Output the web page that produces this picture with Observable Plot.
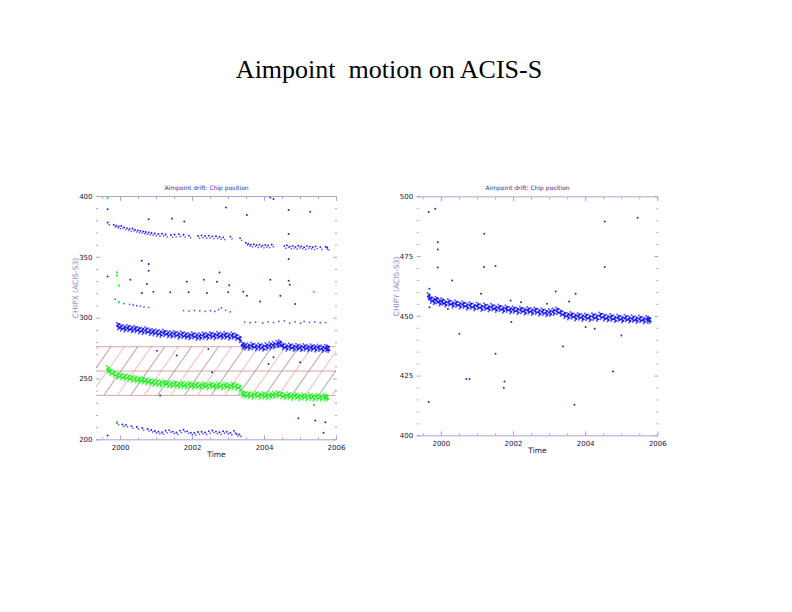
<!DOCTYPE html>
<html><head><meta charset="utf-8">
<script src="https://cdn.jsdelivr.net/npm/d3@7"></script>
<script src="https://cdn.jsdelivr.net/npm/@observablehq/plot@0.6"></script>
<style>
html,body{margin:0;padding:0;background:#fff;}
#page{position:relative;width:792px;height:612px;overflow:hidden;background:#fff;}
#title{position:absolute;left:0;width:778px;top:57px;text-align:center;font-family:"Liberation Serif","Times New Roman",serif;font-size:26px;line-height:26px;color:#000;white-space:pre;}
.panel{position:absolute;top:170px;}
</style></head><body>
<div id="page">
  <div id="title">Aimpoint  motion on ACIS-S</div>
  <div id="left" class="panel" style="left:40px"></div>
  <div id="right" class="panel" style="left:360px"></div>
</div>
<script>
// ---------- shared axis data ----------
const timeDomain = [1999.33, 2006];
const yearLabels = [2000, 2002, 2004, 2006];
const halfYearTicks = [1999.5, 2000, 2000.5, 2001, 2001.5, 2002, 2002.5, 2003, 2003.5, 2004, 2004.5, 2005, 2005.5, 2006];

// ---------- left panel: CHIPX ----------
const chipxDomain = [200, 400];
const chipxLabels = [200, 250, 300, 350, 400];
const chipxMinor = [210, 220, 230, 240, 260, 270, 280, 290, 310, 320, 330, 340, 360, 370, 380, 390];
const hatchBand = [236.5, 276.5];
const hatchLines = [236.5, 256.5, 276.5];

const chipxUpperBlue = [[1999.64,377.8],[1999.81,376.0],[1999.88,375.2],[1999.95,374.6],[2000.02,374.9],[2000.10,373.8],[2000.18,373.2],[2000.25,372.6],[2000.33,372.9],[2000.40,371.8],[2000.48,371.2],[2000.55,370.9],[2000.63,370.4],[2000.70,370.0],[2000.78,369.6],[2000.86,369.2],[2000.95,368.8],[2001.05,368.4],[2001.15,368.6],[2001.25,367.9],[2001.40,367.5],[2001.50,367.9],[2001.62,368.2],[2001.75,367.7],[2001.90,367.0],[2002.15,366.8],[2002.25,367.2],[2002.35,366.7],[2002.45,367.0],[2002.55,366.4],[2002.65,366.6],[2002.75,366.0],[2002.85,365.6],[2003.05,366.2],[2003.32,365.0],[2003.48,361.2],[2003.55,360.3],[2003.62,359.6],[2003.70,360.0],[2003.78,359.2],[2003.86,359.6],[2003.94,358.8],[2004.02,359.4],[2004.10,359.0],[2004.20,359.7],[2004.55,358.4],[2004.62,359.2],[2004.70,358.0],[2004.78,358.6],[2004.86,357.8],[2004.94,358.7],[2005.02,358.2],[2005.10,357.5],[2005.18,358.4],[2005.26,358.0],[2005.34,357.4],[2005.42,358.2],[2005.55,357.6],[2005.70,357.9],[2005.74,357.2]];

const chipxMainBlue = [[1999.92,293.5],[2000.00,292.4],[2000.10,291.6],[2000.20,291.8],[2000.30,290.9],[2000.40,291.0],[2000.50,290.2],[2000.60,289.6],[2000.70,289.9],[2000.80,288.8],[2000.90,288.5],[2001.00,288.0],[2001.10,287.4],[2001.20,287.9],[2001.30,286.9],[2001.40,286.6],[2001.50,286.9],[2001.60,285.9],[2001.70,286.4],[2001.80,285.6],[2001.90,285.2],[2002.00,285.8],[2002.10,284.9],[2002.20,285.0],[2002.30,285.7],[2002.40,285.2],[2002.50,285.9],[2002.60,285.3],[2002.70,286.0],[2002.80,285.4],[2002.90,285.8],[2003.00,285.1],[2003.10,285.6],[2003.20,284.8],[2003.30,283.0],[2003.38,277.6],[2003.45,277.0],[2003.55,276.6],[2003.65,277.2],[2003.75,276.2],[2003.85,276.5],[2003.95,275.9],[2004.05,276.8],[2004.15,277.3],[2004.25,277.8],[2004.35,278.6],[2004.42,279.2],[2004.50,277.0],[2004.60,276.0],[2004.70,276.6],[2004.80,275.7],[2004.90,276.1],[2005.00,275.5],[2005.10,276.0],[2005.20,275.4],[2005.30,275.8],[2005.40,275.2],[2005.50,275.6],[2005.60,274.9],[2005.70,275.3],[2005.76,275.0]];

const chipxThirdBlue = [[1999.85,315.6],[1999.95,313.2],[2000.10,312.0],[2000.25,311.4],[2000.35,310.8],[2000.45,310.2],[2000.55,309.9],[2000.65,309.2],[2000.78,308.9],[2001.75,306.2],[2001.90,305.8],[2002.05,306.3],[2002.20,306.0],[2002.35,305.6],[2002.50,306.1],[2002.62,305.5],[2002.72,307.0],[2002.80,308.4],[2002.92,306.4],[2003.05,305.2],[2003.45,296.8],[2003.60,296.2],[2003.75,296.7],[2003.95,296.0],[2004.10,296.9],[2004.25,296.4],[2004.40,297.3],[2004.55,297.8],[2004.70,296.0],[2004.85,296.9],[2005.00,295.8],[2005.10,297.3],[2005.25,296.5],[2005.40,296.9],[2005.55,296.2],[2005.70,296.4]];

const chipxBottomBlue = [[1999.90,213.4],[2000.05,212.0],[2000.15,211.6],[2000.30,210.6],[2000.45,209.9],[2000.60,209.0],[2000.75,208.2],[2000.85,207.5],[2000.95,206.6],[2001.05,206.0],[2001.15,205.6],[2001.25,206.8],[2001.35,207.3],[2001.45,206.1],[2001.55,205.4],[2001.65,206.9],[2001.75,207.7],[2001.85,206.3],[2001.95,205.2],[2002.05,204.9],[2002.15,205.7],[2002.25,206.0],[2002.35,205.3],[2002.45,206.5],[2002.55,207.0],[2002.65,206.1],[2002.75,205.5],[2002.85,206.4],[2002.95,205.9],[2003.05,205.2],[2003.15,206.7],[2003.22,204.2],[2003.30,203.8]];

const chipxOutliersBlue = [[1999.64,389.6],[1999.64,334.3],[1999.64,203.6],[2000.78,381.4],[2001.43,381.9],[2001.77,379.5],[2002.93,391.0],[2003.51,384.7],[2004.16,399.2],[2004.25,398.0],[2004.67,388.8],[2005.27,387.4],[2004.67,369.1],[2004.67,348.6],[2004.67,330.8],[2004.70,327.5],[2000.59,347.2],[2000.78,344.5],[2000.78,339.0],[2000.73,328.0],[2000.27,331.6],[2000.59,320.7],[2000.91,321.8],[2001.38,321.2],[2001.89,321.2],[2002.40,320.7],[2002.68,330.0],[2002.99,321.2],[2003.41,321.8],[2003.51,318.5],[2003.88,313.6],[2004.16,331.6],[2004.44,318.5],[2004.85,311.6],[2001.84,330.0],[2002.31,331.6],[2002.75,337.6],[2003.02,327.0],[2001.01,273.3],[2001.56,269.2],[2002.44,274.7],[2002.54,255.6],[2001.10,236.4],[2004.94,217.8],[2005.41,215.9],[2005.69,214.5],[2005.64,205.8],[2004.99,263.7],[2004.25,267.9],[2004.11,262.4]];

const chipxGreen = [[1999.64,257.8],[1999.70,256.0],[1999.80,254.5],[1999.90,252.9],[2000.00,252.3],[2000.10,251.5],[2000.20,251.0],[2000.30,250.2],[2000.40,249.9],[2000.50,249.3],[2000.60,248.9],[2000.70,248.2],[2000.80,247.8],[2000.90,247.1],[2001.00,246.9],[2001.10,246.3],[2001.20,246.6],[2001.30,245.8],[2001.40,245.5],[2001.50,245.9],[2001.60,245.0],[2001.70,245.4],[2001.80,244.7],[2001.90,245.1],[2002.00,244.5],[2002.10,244.9],[2002.20,244.3],[2002.30,244.8],[2002.40,244.2],[2002.50,244.7],[2002.60,244.1],[2002.70,244.6],[2002.80,244.0],[2002.90,244.5],[2003.00,243.9],[2003.10,244.4],[2003.20,243.8],[2003.30,242.8],[2003.38,237.9],[2003.45,237.2],[2003.55,236.8],[2003.65,236.4],[2003.75,236.9],[2003.85,236.2],[2003.95,236.6],[2004.05,236.0],[2004.15,236.5],[2004.25,236.9],[2004.35,237.4],[2004.45,236.8],[2004.55,235.9],[2004.65,236.3],[2004.75,235.6],[2004.85,236.0],[2004.95,235.3],[2005.05,235.7],[2005.15,235.1],[2005.25,235.5],[2005.35,234.9],[2005.45,235.3],[2005.55,234.8],[2005.65,235.2],[2005.72,234.9]];

const chipxOutliersGreen = [[1999.64,398.6],[1999.90,337.6],[1999.90,335.0],[1999.95,326.7],[1999.95,313.0],[1999.90,214.5],[2005.37,228.7],[2005.37,321.7]];

// ---------- right panel: CHIPY ----------
const chipyDomain = [400, 500];
const chipyLabels = [400, 425, 450, 475, 500];
const chipyMinor = [405, 410, 415, 420, 430, 435, 440, 445, 455, 460, 465, 470, 480, 485, 490, 495];

const chipyBlue = [[1999.64,458.3],[1999.70,457.0],[1999.78,456.4],[1999.86,456.8],[1999.94,455.9],[2000.02,456.2],[2000.10,455.4],[2000.20,455.8],[2000.30,455.0],[2000.40,455.3],[2000.50,454.6],[2000.60,454.9],[2000.70,454.2],[2000.80,454.5],[2000.90,453.9],[2001.00,454.3],[2001.10,453.6],[2001.20,454.0],[2001.30,453.4],[2001.40,453.8],[2001.50,453.2],[2001.60,453.5],[2001.70,452.9],[2001.80,453.2],[2001.90,452.6],[2002.00,452.8],[2002.10,452.3],[2002.20,452.7],[2002.30,452.1],[2002.40,452.5],[2002.50,452.0],[2002.60,452.3],[2002.70,451.7],[2002.80,451.9],[2002.90,451.4],[2003.00,451.6],[2003.10,451.9],[2003.20,452.3],[2003.30,451.5],[2003.40,450.6],[2003.50,450.1],[2003.60,450.4],[2003.70,449.7],[2003.80,450.0],[2003.90,449.5],[2004.00,449.8],[2004.10,449.3],[2004.20,449.9],[2004.30,449.5],[2004.40,450.2],[2004.50,449.6],[2004.60,449.2],[2004.70,449.5],[2004.80,448.9],[2004.90,449.3],[2005.00,448.8],[2005.10,449.2],[2005.20,448.7],[2005.30,449.0],[2005.40,448.6],[2005.50,448.9],[2005.60,448.4],[2005.70,448.7],[2005.76,448.5]];

const chipyOutliers = [[1999.65,493.6],[1999.83,495.0],[1999.90,481.0],[1999.90,478.0],[1999.90,470.4],[1999.67,461.5],[1999.67,453.8],[1999.65,414.1],[2000.30,465.0],[2000.50,442.7],[2000.69,423.8],[2000.78,423.8],[2001.19,484.5],[2001.10,459.4],[2001.18,470.6],[2001.50,471.0],[2001.50,434.3],[2001.75,422.7],[2001.73,420.1],[2001.92,456.6],[2002.21,455.9],[2002.93,455.2],[2003.17,460.4],[2003.37,437.4],[2003.54,456.2],[2003.72,459.4],[2003.69,413.0],[2004.53,489.7],[2004.53,470.6],[2004.76,426.9],[2004.99,442.0],[2005.44,491.2],[2004.00,445.5],[2000.18,453.1],[2001.94,447.6],[2004.25,444.8]];

// ---------- styles ----------
const BLUE = "#1c1cf0";
const BLUE_LIGHT = "#5a5af4";
const BLUE_DARK = "#2a2ab0";
const GREEN = "#22f022";
const GREEN_LIGHT = "#66f066";
const FRAME = "#a6a6d6";
const TEXT = "#141440";
const TITLE = "#2e2e9a";
const YLAB = "#8c8cc4";
const FONT = "DejaVu Sans, sans-serif";

const X = d => d[0], Y = d => d[1];

// dense point clouds: the same read-off points drawn at several small pixel offsets
const bandOffsets = [[-3.4, -0.9, 1.0], [-1.7, 0.9, 1.25], [0, -0.3, 1.3], [1.7, 1.2, 1.25], [3.4, 0.2, 1.0]];
function band(data, color, light) {
  return bandOffsets.map(([dy, dx, r], i) =>
    Plot.dot(data, {x: X, y: Y, r, fill: (i === 0 || i === 4) ? light : color, stroke: null, dy, dx}));
}
function sparse(data, color, r = 1.0, dy = 0, dx = 0) {
  return Plot.dot(data, {x: X, y: Y, r, fill: color, stroke: null, dy, dx});
}

function frameMarks(yDomain, yLabels, yMinor, yLabel, title) {
  return [
    Plot.ruleY(yDomain, {stroke: FRAME, strokeWidth: 1}),
    Plot.axisY({ticks: yLabels, tickSize: 4, insetLeft: 4, text: null, stroke: FRAME, label: null}),
    Plot.axisY({ticks: yMinor, tickSize: 2, insetLeft: 2, text: null, stroke: FRAME, label: null}),
    Plot.axisY({anchor: "right", ticks: yLabels, tickSize: 4, insetRight: 4, text: null, stroke: FRAME, label: null}),
    Plot.axisY({anchor: "right", ticks: yMinor, tickSize: 2, insetRight: 2, text: null, stroke: FRAME, label: null}),
    Plot.axisY({ticks: yLabels, tickSize: 0, tickPadding: 4, fill: TEXT, fontSize: 7, label: null, tickFormat: d => String(d)}),
    Plot.axisX({anchor: "bottom", ticks: halfYearTicks, tickSize: 2, insetBottom: 2, text: null, stroke: FRAME, label: null}),
    Plot.axisX({anchor: "bottom", ticks: yearLabels, tickSize: 4, insetBottom: 4, text: null, stroke: FRAME, label: null}),
    Plot.axisX({anchor: "top", ticks: halfYearTicks, tickSize: 2, insetTop: 2, text: null, stroke: FRAME, label: null}),
    Plot.axisX({anchor: "top", ticks: yearLabels, tickSize: 4, insetTop: 4, text: null, stroke: FRAME, label: null}),
    Plot.axisX({anchor: "bottom", ticks: yearLabels, tickSize: 0, tickPadding: 5, fill: TEXT, fontSize: 7, label: null, tickFormat: d => String(d)}),
    Plot.text([title], {text: d => d, frameAnchor: "top", dy: -11, dx: -10, fill: TITLE, fontSize: 6}),
    Plot.text(["Time"], {text: d => d, frameAnchor: "bottom", dy: 17, fill: TEXT, fontSize: 7.5}),
    Plot.text([yLabel], {text: d => d, frameAnchor: "left", dx: -21, rotate: -90, fill: YLAB, fontSize: 7.5})
  ];
}

function addHatch(svg, id) {
  const defs = d3.select(svg).insert("defs", ":first-child");
  const p = defs.append("pattern").attr("id", id).attr("patternUnits", "userSpaceOnUse")
    .attr("width", 22).attr("height", 22).attr("patternTransform", "rotate(35)");
  p.append("line").attr("x1", 5.5).attr("y1", 0).attr("x2", 5.5).attr("y2", 22).attr("stroke", "#8a5656").attr("stroke-width", 0.55);
  p.append("line").attr("x1", 16.5).attr("y1", 0).attr("x2", 16.5).attr("y2", 22).attr("stroke", "#f6a8a8").attr("stroke-width", 0.8);
}

// ---------- left chart ----------
const left = Plot.plot({
  width: 310, height: 300,
  marginLeft: 56, marginRight: 14, marginTop: 26, marginBottom: 30.7,
  style: {fontFamily: FONT, background: "transparent", overflow: "visible"},
  x: {domain: timeDomain},
  y: {domain: chipxDomain},
  marks: [
    Plot.rect([hatchBand], {y1: d => d[0], y2: d => d[1], fill: "url(#hatchL)"}),
    Plot.ruleY(hatchLines, {stroke: "#c89292", strokeWidth: 0.8}),
    sparse(chipxUpperBlue, BLUE, 0.95, -1, 0),
    sparse(chipxUpperBlue, BLUE_LIGHT, 0.85, 1.2, 1.6),
    ...band(chipxMainBlue, BLUE, BLUE_LIGHT),
    sparse(chipxThirdBlue, BLUE_LIGHT, 0.9),
    sparse(chipxBottomBlue, BLUE, 0.95, -0.8, 0),
    sparse(chipxBottomBlue, BLUE_LIGHT, 0.85, 1.2, 1.5),
    sparse(chipxOutliersBlue, BLUE_DARK, 1.0),
    ...band(chipxGreen, GREEN, GREEN_LIGHT),
    sparse(chipxOutliersGreen, GREEN, 1.1),
    ...frameMarks(chipxDomain, chipxLabels, chipxMinor, "CHIPX (ACIS-S3)", "Aimpoint drift: Chip position")
  ]
});
addHatch(left, "hatchL");
document.getElementById("left").appendChild(left);

// ---------- right chart ----------
const right = Plot.plot({
  width: 310, height: 300,
  marginLeft: 56.7, marginRight: 12.7, marginTop: 26.3, marginBottom: 34.7,
  style: {fontFamily: FONT, background: "transparent", overflow: "visible"},
  x: {domain: timeDomain},
  y: {domain: chipyDomain},
  marks: [
    ...band(chipyBlue, BLUE, BLUE_LIGHT),
    sparse(chipyOutliers, BLUE_DARK, 1.0),
    ...frameMarks(chipyDomain, chipyLabels, chipyMinor, "CHIPY (ACIS-S3)", "Aimpoint drift: Chip position")
  ]
});
document.getElementById("right").appendChild(right);
</script>
</body></html>
